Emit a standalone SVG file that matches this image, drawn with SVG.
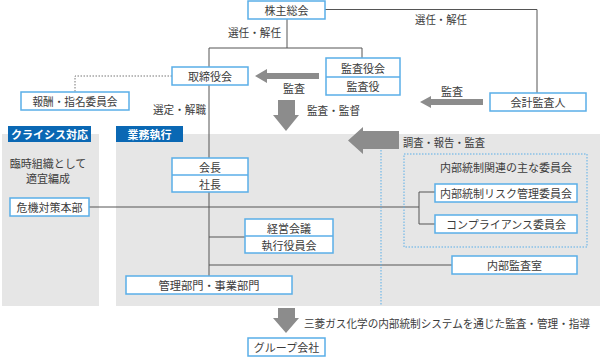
<svg xmlns="http://www.w3.org/2000/svg" width="600" height="357" viewBox="0 0 600 357">
<style>
text{font-family:"Noto Sans CJK JP","Noto Sans",sans-serif;font-size:11px;fill:#3c3c3c;text-anchor:middle;dominant-baseline:central}
.st{text-anchor:start}
.box{fill:#fff;stroke:#5aaee8;stroke-width:1.5}
.ln{fill:none;stroke:#555;stroke-width:1}
.panel{fill:#e6e6e6}
.hdr{fill:#0a68b4}
.hdrt{fill:#fff;font-weight:bold}
.arr{fill:#8c8c8c}
.dot{fill:none;stroke:#5aaee8;stroke-width:1;stroke-dasharray:1.5 1.5}
.gdot{fill:none;stroke:#777;stroke-width:1;stroke-dasharray:1.5 1.5}
</style>
<rect class="panel" x="2" y="134" width="97" height="172"/>
<rect class="panel" x="116" y="134" width="484" height="172"/>
<g id="connectors">
<polyline class="ln" points="325,9.5 537,9.5 537,93"/>
<polyline class="ln" points="287,19 287,48"/>
<polyline class="ln" points="362,58 362,48 209,48 209,276"/>
<polyline class="gdot" points="172,76 75,76 75,92"/>
<polyline class="ln" points="89,207 419,207"/>
<polyline class="ln" points="435,192 419,192 419,224 435,224"/>
<polyline class="ln" points="209,237 245,237"/>
<polyline class="ln" points="209,265 452,265"/>
<line class="dot" x1="381" y1="150" x2="381" y2="306"/>
<polygon class="arr" points="255,76 267,69 267,73 319,73 319,79 267,79 267,83"/>
<polygon class="arr" points="278,100 295,100 295,115 299,115 286,131 273,115 278,115"/>
<polygon class="arr" points="420,102 431,96 431,99 483,99 483,105 431,105 431,108"/>
<polygon class="arr" points="348,140.5 363,127 363,131 399,131 399,149 363,149 363,154"/>
<polygon class="arr" points="278,308 295,308 295,318 299,318 286,333 273,318 278,318"/>
</g>
<g id="labels">
<text class="st" x="415" y="19" textLength="52" lengthAdjust="spacingAndGlyphs">選任・解任</text>
<text class="st" x="228" y="32" textLength="53" lengthAdjust="spacingAndGlyphs">選任・解任</text>
<text x="294" y="88">監査</text>
<text class="st" x="307" y="110" textLength="53" lengthAdjust="spacingAndGlyphs">監査・監督</text>
<text x="452" y="91">監査</text>
<text class="st" x="153" y="109" textLength="53" lengthAdjust="spacingAndGlyphs">選定・解職</text>
<text class="st" x="403" y="142" textLength="82" lengthAdjust="spacingAndGlyphs">調査・報告・監査</text>
<text class="st" x="304" y="323" textLength="286" lengthAdjust="spacingAndGlyphs">三菱ガス化学の内部統制システムを通じた監査・管理・指導</text>
</g>
<g id="crisis-header"><rect class="hdr" x="8" y="126" width="83" height="16"/><text class="hdrt" x="49.5" y="134">クライシス対応</text></g>
<g id="exec-header"><rect class="hdr" x="116" y="126" width="67" height="16"/><text class="hdrt" x="149.5" y="134">業務執行</text></g>
<g id="temp-org"><text x="48" y="163">臨時組織として</text><text x="48" y="178">適宜編成</text></g>
<g id="shareholders"><rect class="box" x="248" y="1" width="77" height="18"/><text x="286.5" y="10">株主総会</text></g>
<g id="board"><rect class="box" x="172" y="67" width="76" height="18"/><text x="210" y="76">取締役会</text></g>
<g id="remuneration"><rect class="box" x="21" y="92" width="108" height="18"/><text x="75" y="101" textLength="85" lengthAdjust="spacingAndGlyphs">報酬・指名委員会</text></g>
<g id="auditors"><rect class="box" x="326" y="58" width="74" height="37"/><line x1="326" y1="77" x2="400" y2="77" stroke="#5aaee8" stroke-width="1.5"/><text x="363" y="67.5">監査役会</text><text x="363" y="86">監査役</text></g>
<g id="accounting-auditor"><rect class="box" x="490" y="93" width="96" height="18"/><text x="538" y="102">会計監査人</text></g>
<g id="crisis-hq"><rect class="box" x="10" y="198" width="79" height="18"/><text x="49.5" y="207">危機対策本部</text></g>
<g id="chairman"><rect class="box" x="172" y="158" width="76" height="34"/><line x1="172" y1="175" x2="248" y2="175" stroke="#5aaee8" stroke-width="1.5"/><text x="210" y="166.5">会長</text><text x="210" y="183.5">社長</text></g>
<g id="mgmt-council"><rect class="box" x="245" y="219" width="88" height="34"/><line x1="245" y1="236" x2="333" y2="236" stroke="#5aaee8" stroke-width="1.5"/><text x="289" y="227.5">経営会議</text><text x="289" y="244.5">執行役員会</text></g>
<g id="divisions"><rect class="box" x="126" y="276" width="166" height="18"/><text x="209" y="285" textLength="101" lengthAdjust="spacingAndGlyphs">管理部門・事業部門</text></g>
<g id="committees"><rect class="dot" x="404" y="154" width="183" height="93"/><text x="506" y="167">内部統制関連の主な委員会</text></g>
<g id="risk-committee"><rect class="box" x="435" y="184" width="142" height="18"/><text x="506" y="193">内部統制リスク管理委員会</text></g>
<g id="compliance-committee"><rect class="box" x="435" y="215" width="142" height="18"/><text x="506" y="224">コンプライアンス委員会</text></g>
<g id="internal-audit"><rect class="box" x="452" y="256" width="125" height="18"/><text x="514.5" y="265">内部監査室</text></g>
<g id="group-companies"><rect class="box" x="248" y="338" width="77" height="18"/><text x="286.5" y="347">グループ会社</text></g>
</svg>
